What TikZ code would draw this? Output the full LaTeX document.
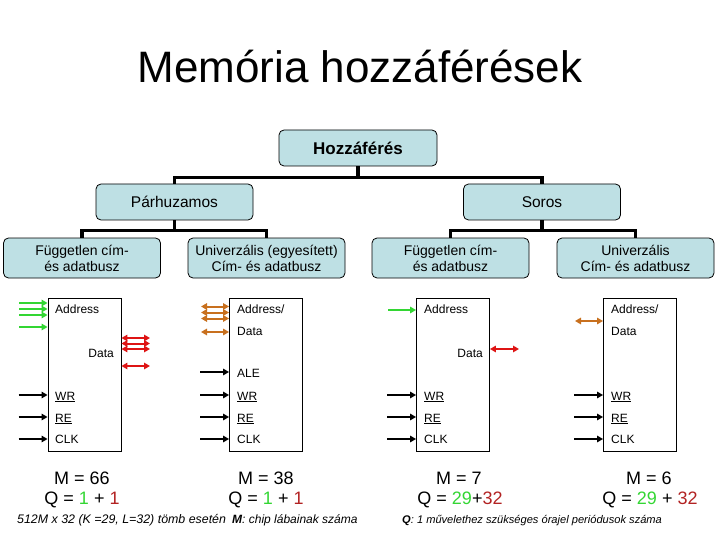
\documentclass[tikz,border=0pt]{standalone}
\usepackage{fontspec}
\setmainfont{Liberation Sans}
\usetikzlibrary{arrows.meta}
\definecolor{boxfill}{RGB}{190,224,228}
\definecolor{busgreen}{RGB}{51,214,51}
\definecolor{busred}{RGB}{222,20,20}
\definecolor{busorange}{RGB}{200,112,30}
\definecolor{dkred}{RGB}{178,34,34}
\begin{document}
\begin{tikzpicture}[x=1pt,y=-1pt,
  tbox/.style={draw=black, line width=0.8pt, fill=boxfill, rounded corners=5pt, minimum width=157pt, minimum height=36pt, inner sep=0pt, align=center},
  tbox3/.style={tbox, minimum height=40pt, font=\fontsize{14}{16}\selectfont},
  chip/.style={draw=black, line width=0.9pt, fill=white, minimum width=73pt, minimum height=153pt, inner sep=0pt},
  tree/.style={line width=3.2pt, line join=miter},
  tip/.tip={Triangle[length=6pt,width=6.5pt]},
  sig/.style={line width=1.6pt, -tip},
  gbus/.style={draw=busgreen, line width=2pt, -tip},
  rbus/.style={draw=busred, line width=2pt, tip-tip},
  obus/.style={draw=busorange, line width=2pt, tip-tip},
  lbl/.style={font=\fontsize{12}{14}\selectfont, inner sep=0pt},
  big/.style={font=\fontsize{18}{20}\selectfont, inner sep=0pt, anchor=base},
  note/.style={font=\fontsize{11.5}{13}\selectfont\itshape, inner sep=0pt, anchor=base west},
]
\useasboundingbox (0,0) rectangle (720,540);

% title
\node[inner sep=0pt, anchor=base, font=\fontsize{44}{48}\selectfont] (title) at (360,83) {Memória hozzáférések};

% tree
\node[tbox, font=\fontsize{17}{19}\selectfont\bfseries, minimum width=158pt] (hoz) at (358,148) {Hozzáférés};
\node[tbox, font=\fontsize{15.5}{18}\selectfont] (par) at (174.5,202) {Párhuzamos};
\node[tbox, font=\fontsize{15.5}{18}\selectfont] (sor) at (542,202) {Soros};
\node[tbox3] (pa) at (82,258) {Független cím-\\és adatbusz};
\node[tbox3] (pb) at (266.5,258) {Univerzális (egyesített)\\Cím- és adatbusz};
\node[tbox3] (sa) at (450.5,258) {Független cím-\\és adatbusz};
\node[tbox3] (sb) at (635.5,258) {Univerzális\\Cím- és adatbusz};

\draw[tree] (hoz.south) -- ++(0,11) -| (par.north);
\draw[tree] (hoz.south) -- ++(0,11) -| (sor.north);
\draw[tree] (par.south) -- ++(0,10) -| (pa.north);
\draw[tree] (par.south) -- ++(0,10) -| (pb.north);
\draw[tree] (sor.south) -- ++(0,10) -| (sa.north);
\draw[tree] (sor.south) -- ++(0,10) -| (sb.north);

% chips
\node[chip] (c1) at (84.5,374.5) {};
\node[chip] (c2) at (266,374.5) {};
\node[chip] (c3) at (453,374.5) {};
\node[chip] (c4) at (640,374.5) {};

% common control signals
\foreach \c/\x in {c1/55,c2/237,c3/424,c4/611} {
  \foreach \n/\y in {wr/395,re/417,clk/439} {
    \path (\c.west |- 0,\y) ++(-29,0) coordinate (\c\n);
    \draw[sig] (\c\n) -- (\c\n -| \c.west);
  }
  \node[lbl, anchor=base west] (\c-wrl) at (\x,400) {\underline{WR}};
  \node[lbl, anchor=base west] (\c-rel) at (\x,422) {\underline{RE}};
  \node[lbl, anchor=base west] (\c-clkl) at (\x,443) {CLK};
}
% ALE on c2
\path (c2.west |- 0,372) ++(-29,0) coordinate (c2ale);
\draw[sig] (c2ale) -- (c2ale -| c2.west);
\node[lbl, anchor=base west] (c2-alel) at (237,377) {ALE};

% chip 1
\node[lbl, anchor=base west] (c1-addr) at (55,313) {Address};
\node[lbl, anchor=base east] (c1-data) at (114,357) {Data};
\foreach \i/\y in {1/303,2/309,3/315,4/327} {
  \coordinate (g1\i) at (19,\y);
  \draw[gbus] (g1\i) -- (g1\i -| c1.west);
}
\foreach \i/\y in {1/338,2/343.5,3/349,4/366} {
  \coordinate (r1\i) at (150,\y);
  \draw[rbus] (r1\i -| c1.east) -- (r1\i);
}

% chip 2
\node[lbl, anchor=base west] (c2-addr) at (237,313) {Address/};
\node[lbl, anchor=base west] (c2-data) at (237,335) {Data};
\foreach \i/\y in {1/306.5,2/312.5,3/318.5,4/332} {
  \coordinate (o2\i) at (201,\y);
  \draw[obus] (o2\i) -- (o2\i -| c2.west);
}

% chip 3
\node[lbl, anchor=base west] (c3-addr) at (424,313) {Address};
\node[lbl, anchor=base east] (c3-data) at (483,357) {Data};
\coordinate (g3) at (388,310);
\draw[gbus] (g3) -- (g3 -| c3.west);
\coordinate (r3) at (519,349);
\draw[rbus] (r3 -| c3.east) -- (r3);

% chip 4
\node[lbl, anchor=base west] (c4-addr) at (611,313) {Address/};
\node[lbl, anchor=base west] (c4-data) at (611,335) {Data};
\coordinate (o4) at (575,321);
\draw[obus] (o4) -- (o4 -| c4.west);

% results
\node[big] (m1) at (82,484) {M = 66};
\node[big] (q1) at (82,504) {Q = {\color{busgreen}1} + {\color{dkred}1}};
\node[big] (m2) at (266,484) {M = 38};
\node[big] (q2) at (266,504) {Q = {\color{busgreen}1} + {\color{dkred}1}};
\node[big] (m3) at (459,484) {M = 7};
\node[big] (q3) at (460,504) {Q = {\color{busgreen}29}+{\color{dkred}32}};
\node[big] (m4) at (649,484) {M = 6};
\node[big] (q4) at (650,504) {Q = {\color{busgreen}29} + {\color{dkred}32}};

% notes
\node[note, font=\fontsize{12.4}{14}\selectfont\itshape] (n1) at (17,523) {512M x 32 (K =29, L=32) tömb esetén};
\node[note, font=\fontsize{12}{14}\selectfont\itshape] (n2) at (232,523) {\textbf{M}: chip lábainak száma};
\node[note, font=\fontsize{11.1}{13}\selectfont\itshape] (n3) at (402,523) {\textbf{Q}: 1 művelethez szükséges órajel periódusok száma};
\end{tikzpicture}
\end{document}
